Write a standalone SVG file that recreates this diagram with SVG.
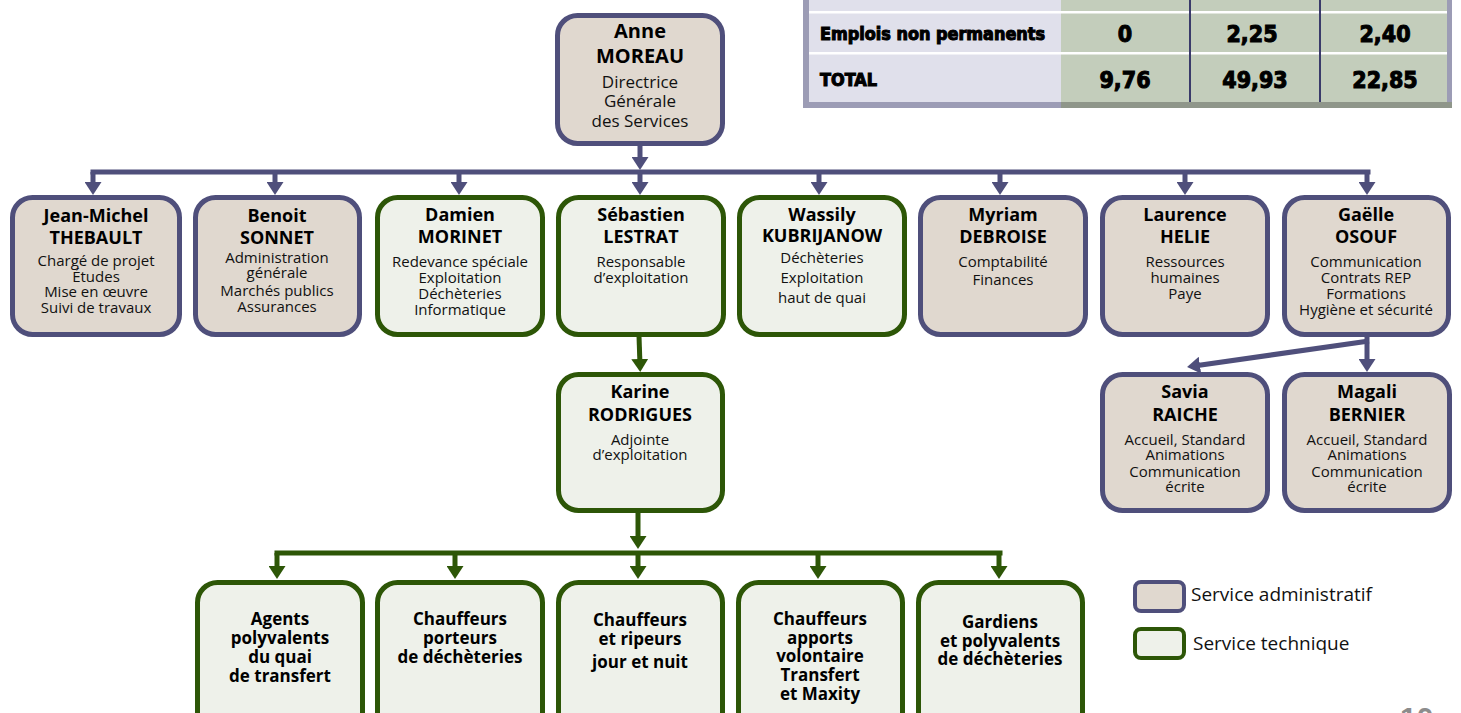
<svg xmlns="http://www.w3.org/2000/svg" width="1461" height="713" viewBox="0 0 1461 713">
<style>
.adm{fill:#E0D8CF;stroke:#4F4F7B;stroke-width:5}
.tec{fill:#EEF1EA;stroke:#2D5607;stroke-width:5}
.nA{font-family:"Open Sans",sans-serif;font-weight:bold;font-size:20px;text-anchor:middle;fill:#000}
.dA{font-family:"Open Sans",sans-serif;font-size:17px;text-anchor:middle;fill:#111}
.n{font-family:"Open Sans",sans-serif;font-weight:bold;font-size:18px;text-anchor:middle;fill:#000}
.d{font-family:"Open Sans",sans-serif;font-size:15px;text-anchor:middle;fill:#111}
.b{font-family:"Open Sans",sans-serif;font-weight:bold;font-size:17px;text-anchor:middle;fill:#000}
.lg{font-family:"Open Sans",sans-serif;font-size:19px;fill:#111}
.ca{stroke:#4F4F7B;stroke-width:5;fill:none}
.ct{stroke:#2D5607;stroke-width:5;fill:none}
.tb{font-family:"DejaVu Sans Condensed","DejaVu Sans",sans-serif;font-weight:bold;fill:#000;stroke:#000;stroke-width:1}
</style>
<defs>
<marker id="ma" markerUnits="userSpaceOnUse" viewBox="0 0 13 17" markerWidth="13" markerHeight="17" refX="6" refY="8.5" orient="auto"><path d="M0,0 L13,8.5 L0,17 z" fill="#4F4F7B"/></marker>
<marker id="mt" markerUnits="userSpaceOnUse" viewBox="0 0 13 17" markerWidth="13" markerHeight="17" refX="6" refY="8.5" orient="auto"><path d="M0,0 L13,8.5 L0,17 z" fill="#2D5607"/></marker>
</defs>

<g id="table">
<rect x="809" y="0" width="252" height="102" fill="#E0E0EB"/>
<rect x="1061" y="0" width="386" height="102" fill="#C3CDBB"/>
<rect x="809" y="11" width="638" height="2.5" fill="#FFFFFF"/>
<rect x="809" y="52" width="638" height="2.5" fill="#FFFFFF"/>
<rect x="1189" y="0" width="2" height="102" fill="#3A3A6A"/>
<rect x="1319" y="0" width="2" height="102" fill="#3A3A6A"/>
<rect x="803" y="0" width="6" height="108" fill="#9C9CB5"/>
<rect x="1447" y="0" width="5" height="108" fill="#9C9CB5"/>
<rect x="803" y="102" width="258" height="6" fill="#9C9CB5"/>
<rect x="1061" y="102" width="391" height="6" fill="#8F968A"/>
<text class="tb" x="820" y="40" font-size="17" textLength="225" lengthAdjust="spacingAndGlyphs">Emplois non permanents</text>
<text class="tb" x="820" y="86" font-size="17" textLength="57" lengthAdjust="spacingAndGlyphs">TOTAL</text>
<text class="tb" x="1125" y="42" font-size="23" text-anchor="middle">0</text>
<text class="tb" x="1252" y="42" font-size="23" text-anchor="middle">2,25</text>
<text class="tb" x="1385" y="42" font-size="23" text-anchor="middle">2,40</text>
<text class="tb" x="1125" y="88" font-size="23" text-anchor="middle">9,76</text>
<text class="tb" x="1255" y="88" font-size="23" text-anchor="middle">49,93</text>
<text class="tb" x="1385" y="88" font-size="23" text-anchor="middle">22,85</text>
</g>

<g id="connectors">
<path class="ca" d="M640,146 L640,163" marker-end="url(#ma)"/>
<path class="ca" d="M93,172 L1368,172" stroke-linecap="square"/>
<path class="ca" d="M93,172 L93,188" marker-end="url(#ma)"/>
<path class="ca" d="M275,172 L275,188" marker-end="url(#ma)"/>
<path class="ca" d="M459,172 L459,188" marker-end="url(#ma)"/>
<path class="ca" d="M640,172 L640,188" marker-end="url(#ma)"/>
<path class="ca" d="M819,172 L819,188" marker-end="url(#ma)"/>
<path class="ca" d="M1000,172 L1000,188" marker-end="url(#ma)"/>
<path class="ca" d="M1185,172 L1185,188" marker-end="url(#ma)"/>
<path class="ca" d="M1367,172 L1367,188" marker-end="url(#ma)"/>
<path class="ct" d="M639,336 L640,365" marker-end="url(#mt)"/>
<path class="ca" d="M1367,336 L1367,365" marker-end="url(#ma)"/>
<path class="ca" d="M1369,341 L1194,366" marker-end="url(#ma)"/>
<path class="ct" d="M638,513 L638,542" marker-end="url(#mt)"/>
<path class="ct" d="M277,553 L1000,553" stroke-linecap="square"/>
<path class="ct" d="M277,553 L277,572" marker-end="url(#mt)"/>
<path class="ct" d="M455,553 L455,572" marker-end="url(#mt)"/>
<path class="ct" d="M638,553 L638,572" marker-end="url(#mt)"/>
<path class="ct" d="M818,553 L818,572" marker-end="url(#mt)"/>
<path class="ct" d="M999,553 L999,572" marker-end="url(#mt)"/>
</g>

<g id="n-moreau">
<rect class="adm" x="557.5" y="15.5" width="165" height="128" rx="20"/>
<text class="nA" x="640" y="38">Anne</text>
<text class="nA" x="640" y="63">MOREAU</text>
<text class="dA" x="640" y="88">Directrice</text>
<text class="dA" x="640" y="107">Générale</text>
<text class="dA" x="640" y="127">des Services</text>
</g>

<g id="n-thebault">
<rect class="adm" x="12.5" y="197.5" width="167" height="137" rx="20"/>
<text class="n" x="96" y="222">Jean-Michel</text>
<text class="n" x="96" y="244">THEBAULT</text>
<text class="d" x="96" y="266">Chargé de projet</text>
<text class="d" x="96" y="282">Études</text>
<text class="d" x="96" y="297">Mise en œuvre</text>
<text class="d" x="96" y="313">Suivi de travaux</text>
</g>

<g id="n-sonnet">
<rect class="adm" x="195.5" y="197.5" width="164" height="137" rx="20"/>
<text class="n" x="277" y="222">Benoit</text>
<text class="n" x="277" y="244">SONNET</text>
<text class="d" x="277" y="263">Administration</text>
<text class="d" x="277" y="278">générale</text>
<text class="d" x="277" y="296">Marchés publics</text>
<text class="d" x="277" y="312">Assurances</text>
</g>

<g id="n-morinet">
<rect class="tec" x="377.5" y="197.5" width="165" height="137" rx="20"/>
<text class="n" x="460" y="221">Damien</text>
<text class="n" x="460" y="243">MORINET</text>
<text class="d" x="460" y="267">Redevance spéciale</text>
<text class="d" x="460" y="283">Exploitation</text>
<text class="d" x="460" y="299">Déchèteries</text>
<text class="d" x="460" y="315">Informatique</text>
</g>

<g id="n-lestrat">
<rect class="tec" x="558.5" y="197.5" width="165" height="137" rx="20"/>
<text class="n" x="641" y="221">Sébastien</text>
<text class="n" x="641" y="243">LESTRAT</text>
<text class="d" x="641" y="267">Responsable</text>
<text class="d" x="641" y="283">d’exploitation</text>
</g>

<g id="n-kubrijanow">
<rect class="tec" x="739.5" y="197.5" width="165" height="137" rx="20"/>
<text class="n" x="822" y="221">Wassily</text>
<text class="n" x="822" y="242">KUBRIJANOW</text>
<text class="d" x="822" y="263">Déchèteries</text>
<text class="d" x="822" y="283">Exploitation</text>
<text class="d" x="822" y="303">haut de quai</text>
</g>

<g id="n-debroise">
<rect class="adm" x="920.5" y="197.5" width="165" height="137" rx="20"/>
<text class="n" x="1003" y="221">Myriam</text>
<text class="n" x="1003" y="243">DEBROISE</text>
<text class="d" x="1003" y="267">Comptabilité</text>
<text class="d" x="1003" y="285">Finances</text>
</g>

<g id="n-helie">
<rect class="adm" x="1102.5" y="197.5" width="165" height="137" rx="20"/>
<text class="n" x="1185" y="221">Laurence</text>
<text class="n" x="1185" y="243">HELIE</text>
<text class="d" x="1185" y="267">Ressources</text>
<text class="d" x="1185" y="283">humaines</text>
<text class="d" x="1185" y="299">Paye</text>
</g>

<g id="n-osouf">
<rect class="adm" x="1284.5" y="197.5" width="164" height="137" rx="20"/>
<text class="n" x="1366" y="221">Gaëlle</text>
<text class="n" x="1366" y="243">OSOUF</text>
<text class="d" x="1366" y="267">Communication</text>
<text class="d" x="1366" y="283">Contrats REP</text>
<text class="d" x="1366" y="299">Formations</text>
<text class="d" x="1366" y="315">Hygiène et sécurité</text>
</g>

<g id="n-rodrigues">
<rect class="tec" x="558.5" y="374.5" width="164" height="136" rx="20"/>
<text class="n" x="640" y="398">Karine</text>
<text class="n" x="640" y="421">RODRIGUES</text>
<text class="d" x="640" y="445">Adjointe</text>
<text class="d" x="640" y="460">d’exploitation</text>
</g>

<g id="n-raiche">
<rect class="adm" x="1102.5" y="374.5" width="165" height="136" rx="20"/>
<text class="n" x="1185" y="398">Savia</text>
<text class="n" x="1185" y="421">RAICHE</text>
<text class="d" x="1185" y="445">Accueil, Standard</text>
<text class="d" x="1185" y="460">Animations</text>
<text class="d" x="1185" y="477">Communication</text>
<text class="d" x="1185" y="492">écrite</text>
</g>

<g id="n-bernier">
<rect class="adm" x="1284.5" y="374.5" width="165" height="136" rx="20"/>
<text class="n" x="1367" y="398">Magali</text>
<text class="n" x="1367" y="421">BERNIER</text>
<text class="d" x="1367" y="445">Accueil, Standard</text>
<text class="d" x="1367" y="460">Animations</text>
<text class="d" x="1367" y="477">Communication</text>
<text class="d" x="1367" y="492">écrite</text>
</g>

<g id="n-agents">
<rect class="tec" x="197.5" y="582.5" width="165" height="150" rx="20"/>
<text class="b" x="280" y="625">Agents</text>
<text class="b" x="280" y="644">polyvalents</text>
<text class="b" x="280" y="663">du quai</text>
<text class="b" x="280" y="682">de transfert</text>
</g>

<g id="n-porteurs">
<rect class="tec" x="377.5" y="582.5" width="165" height="150" rx="20"/>
<text class="b" x="460" y="625">Chauffeurs</text>
<text class="b" x="460" y="644">porteurs</text>
<text class="b" x="460" y="663">de déchèteries</text>
</g>

<g id="n-ripeurs">
<rect class="tec" x="558.5" y="582.5" width="164" height="150" rx="20"/>
<text class="b" x="640" y="626">Chauffeurs</text>
<text class="b" x="640" y="645">et ripeurs</text>
<text class="b" x="640" y="668">jour et nuit</text>
</g>

<g id="n-apports">
<rect class="tec" x="738.5" y="582.5" width="164" height="150" rx="20"/>
<text class="b" x="820" y="625">Chauffeurs</text>
<text class="b" x="820" y="644">apports</text>
<text class="b" x="820" y="662">volontaire</text>
<text class="b" x="820" y="681">Transfert</text>
<text class="b" x="820" y="700">et Maxity</text>
</g>

<g id="n-gardiens">
<rect class="tec" x="918.5" y="582.5" width="164" height="150" rx="20"/>
<text class="b" x="1000" y="628">Gardiens</text>
<text class="b" x="1000" y="647">et polyvalents</text>
<text class="b" x="1000" y="665">de déchèteries</text>
</g>

<g id="legend">
<rect class="adm" x="1135" y="582" width="49" height="29" rx="6" style="stroke-width:4"/>
<text class="lg" x="1191" y="601">Service administratif</text>
<rect class="tec" x="1135" y="629" width="49" height="29" rx="6" style="stroke-width:4"/>
<text class="lg" x="1193" y="650">Service technique</text>
</g>

<text x="1400" y="728" font-family="Liberation Sans,sans-serif" font-weight="bold" font-size="30" fill="#8C8C8C">10</text>
</svg>
